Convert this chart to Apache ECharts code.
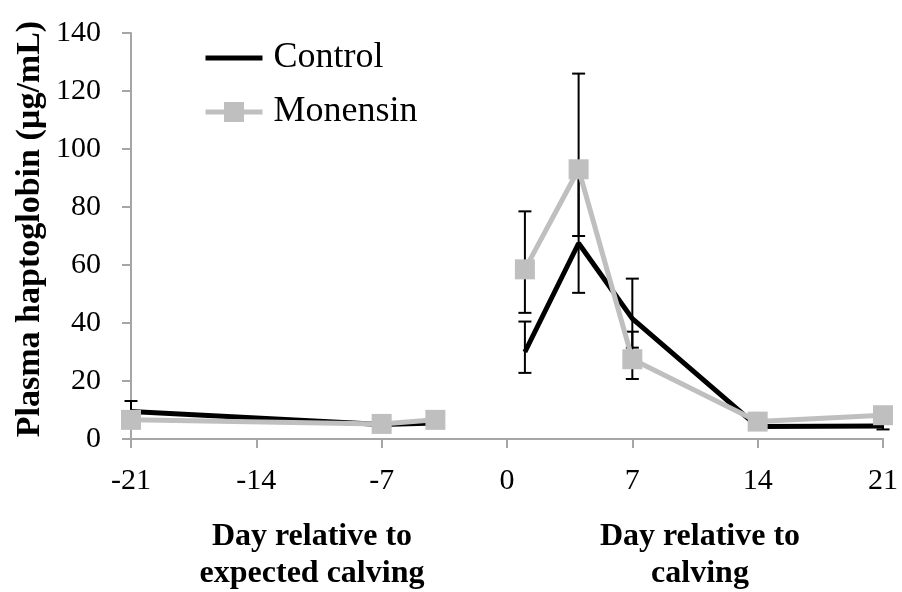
<!DOCTYPE html>
<html>
<head>
<meta charset="utf-8">
<script src="https://cdn.jsdelivr.net/npm/echarts@6/dist/echarts.min.js"></script>
<style>html,body{margin:0;padding:0;background:#fff}#c{width:902px;height:592px}</style>
</head>
<body>
<div id="c"></div>
<script>
// Days
const daysPre = [-21, -7, -4];
const daysPost = [1, 4, 7, 14, 21];
// Means
const controlPre = [9.5, 5.0, 5.5];
const controlPost = [30, 67.5, 41.5, 4.3, 4.5];
const monensinPre = [6.6, 5.2, 6.6];
const monensinPost = [58.5, 93, 27.5, 6.0, 8.2];
// Error bar bounds (low, high)
const controlLowPre = [7.0, 3.7, 4.1];
const controlHighPre = [13.1, 6.7, 7.4];
const controlLowPost = [22.8, 50.4, 31.5, 3.2, 3.3];
const controlHighPost = [40.5, 92, 55.3, 5.8, 6.0];
const monensinLowPre = [4.9, 3.9, 4.9];
const monensinHighPre = [8.9, 7.0, 8.9];
const monensinLowPost = [43.5, 70, 20.7, 4.5, 6.2];
const monensinHighPost = [78.5, 126, 37, 8.0, 10.5];
// Tick values
const xTicks = [-21, -14, -7, 0, 7, 14, 21];
const yMax = 140, yStep = 20;

const serif = "'Liberation Serif', 'Times New Roman', serif";
const zip = (xs, ys) => xs.map((x, i) => [x, ys[i]]);
const zip3 = (xs, a, b) => xs.map((x, i) => [x, a[i], b[i]]);

const errData = [].concat(
  zip3(daysPre, controlLowPre, controlHighPre),
  zip3(daysPost, controlLowPost, controlHighPost),
  zip3(daysPre, monensinLowPre, monensinHighPre),
  zip3(daysPost, monensinLowPost, monensinHighPost)
);

const chart = echarts.init(document.getElementById('c'));
const lineCommon = { type: 'line', lineStyle: { width: 5 }, animation: false };
chart.setOption({
  animation: false,
  grid: { left: 131, right: 19, top: 33, bottom: 153 },
  xAxis: {
    type: 'value', min: xTicks[0], max: xTicks[xTicks.length - 1], interval: 7,
    axisLine: { onZero: false, lineStyle: { color: '#a6a6a6', width: 2 } },
    axisTick: { show: true, length: 9, lineStyle: { color: '#a6a6a6', width: 2 } },
    axisLabel: { color: '#000', fontFamily: serif, fontSize: 30, margin: 27 },
    splitLine: { show: false }
  },
  yAxis: {
    type: 'value', min: 0, max: yMax, interval: yStep,
    axisLine: { show: true, onZero: false, lineStyle: { color: '#a6a6a6', width: 2 } },
    axisTick: { show: true, length: 9, lineStyle: { color: '#a6a6a6', width: 2 } },
    axisLabel: { color: '#000', fontFamily: serif, fontSize: 30, margin: 30 },
    splitLine: { show: false }
  },
  legend: {
    orient: 'vertical', left: 198, top: 35, itemWidth: 57, itemHeight: 25, itemGap: 18,
    lineStyle: { width: 5 },
    data: [
      { name: 'Control', itemStyle: { opacity: 0 }, lineStyle: { width: 5, color: '#000' } },
      { name: 'Monensin', lineStyle: { width: 5, color: '#bfbfbf' } }
    ],
    textStyle: { fontFamily: serif, fontSize: 36, color: '#000', padding: [0, 0, 0, 6] }
  },
  series: [
    {
      type: 'custom', name: 'err', z: 1, silent: true,
      data: errData,
      encode: { x: 0, y: [1, 2] },
      renderItem: function (params, api) {
        const x = api.value(0), lo = api.value(1), hi = api.value(2);
        const a = api.coord([x, lo]), b = api.coord([x, hi]);
        const w = 6.5, st = { stroke: '#000', lineWidth: 2 };
        return { type: 'group', children: [
          { type: 'line', shape: { x1: a[0], y1: a[1], x2: b[0], y2: b[1] }, style: st },
          { type: 'line', shape: { x1: a[0] - w, y1: a[1], x2: a[0] + w, y2: a[1] }, style: st },
          { type: 'line', shape: { x1: b[0] - w, y1: b[1], x2: b[0] + w, y2: b[1] }, style: st }
        ]};
      }
    },
    Object.assign({}, lineCommon, { name: 'Control', z: 3, data: zip(daysPre, controlPre), symbol: 'none', color: '#000', lineStyle: { width: 5, color: '#000' } }),
    Object.assign({}, lineCommon, { name: 'Control', z: 3, data: zip(daysPost, controlPost), symbol: 'none', color: '#000', lineStyle: { width: 5, color: '#000' } }),
    Object.assign({}, lineCommon, { name: 'Monensin', z: 4, data: zip(daysPre, monensinPre), symbol: 'rect', symbolSize: 20, color: '#bfbfbf', itemStyle: { color: '#bfbfbf' }, lineStyle: { width: 5, color: '#bfbfbf' } }),
    Object.assign({}, lineCommon, { name: 'Monensin', z: 4, data: zip(daysPost, monensinPost), symbol: 'rect', symbolSize: 20, color: '#bfbfbf', itemStyle: { color: '#bfbfbf' }, lineStyle: { width: 5, color: '#bfbfbf' } })
  ],
  graphic: [
    { type: 'text', x: 30, y: 229, rotation: Math.PI / 2,
      style: { text: 'Plasma haptoglobin (µg/mL)', font: "bold 34px 'Liberation Serif', serif", fill: '#000', align: 'center', verticalAlign: 'middle' } },
    { type: 'text', x: 312, y: 555,
      style: { text: 'Day relative to\nexpected calving', font: "bold 32px 'Liberation Serif', serif", lineHeight: 37, fill: '#000', align: 'center', verticalAlign: 'middle' } },
    { type: 'text', x: 700, y: 555,
      style: { text: 'Day relative to\ncalving', font: "bold 32px 'Liberation Serif', serif", lineHeight: 37, fill: '#000', align: 'center', verticalAlign: 'middle' } }
  ]
});
</script>
</body>
</html>
